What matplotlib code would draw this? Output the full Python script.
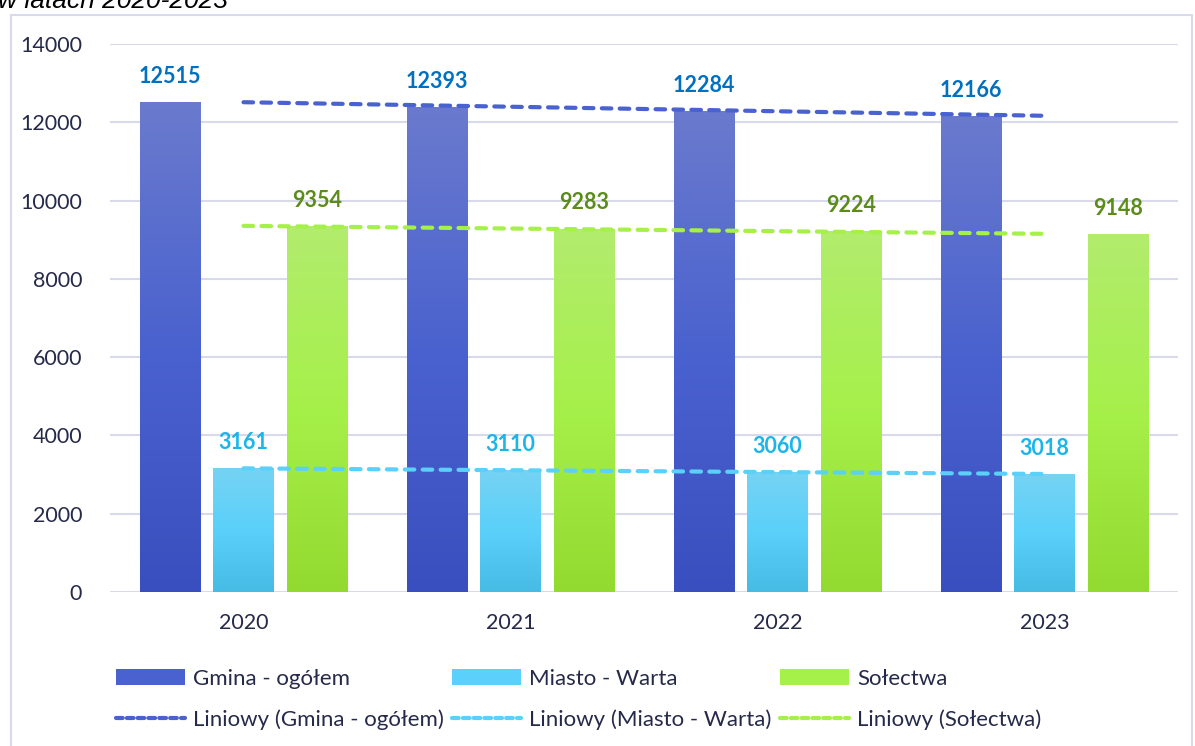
import numpy as np
import matplotlib
matplotlib.use("Agg")
import matplotlib.pyplot as plt
from matplotlib.patches import Rectangle, Patch
from matplotlib.lines import Line2D
from matplotlib.colors import LinearSegmentedColormap

years = ["2020", "2021", "2022", "2023"]
gmina = [12515, 12393, 12284, 12166]
miasto = [3161, 3110, 3060, 3018]
solectwa = [9354, 9283, 9224, 9148]
series_names = ["Gmina - ogółem", "Miasto - Warta", "Sołectwa"]
trend_names = ["Liniowy (Gmina - ogółem)", "Liniowy (Miasto - Warta)", "Liniowy (Sołectwa)"]
yticks = [0, 2000, 4000, 6000, 8000, 10000, 12000, 14000]

FONT = ["Lato", "DejaVu Sans"]
plt.rcParams["font.family"] = FONT

W, H = 1195, 746
fig = plt.figure(figsize=(W / 100, H / 100), dpi=100)
ax = fig.add_axes([110 / W, 1 - 592 / H, (1178 - 110) / W, (592 - 44) / H])

grid_c = "#d9d9ec"
text_c = "#262a4a"

# outer frame
fig.patches.append(Rectangle((10.5 / W, -0.02), (1192 - 10.5) / W, (H - 15) / H + 0.02,
                             transform=fig.transFigure, fill=False, ec=grid_c, lw=1.5, zorder=0))
fig.text(-2 / W, 1 - 8 / H, "w latach 2020-2023", fontsize=19, style="italic",
         family=["Liberation Sans", "DejaVu Sans"], color="#000000", va="baseline", ha="left")

x = np.arange(len(years))
bw = 0.225
off = 0.277
data = [gmina, miasto, solectwa]
grads = [
    ["#3a4fbf", "#4a62cf", "#6a7acd"],
    ["#46bbe4", "#5ad0fa", "#76d3f3"],
    ["#93da30", "#a6f04a", "#b2ec6e"],
]
solid = ["#4a62cf", "#5ad0fa", "#a6f04a"]
label_c = ["#0070c0", "#1cb5ea", "#5b8c1a"]
trend_c = ["#4a62cf", "#5ad0fa", "#a6f04a"]

ax.set_xlim(-0.5, len(years) - 0.5)
ax.set_ylim(0, 14000)

for i, vals in enumerate(data):
    pos = x + (i - 1) * off
    bars = ax.bar(pos, vals, width=bw, color=solid[i], zorder=2)
    cmap = LinearSegmentedColormap.from_list(f"g{i}", grads[i])
    grad = np.linspace(0, 1, 256).reshape(-1, 1)
    for b in bars:
        x0, y0 = b.get_x(), b.get_y()
        im = ax.imshow(grad, cmap=cmap, origin="lower", aspect="auto",
                       extent=(x0, x0 + b.get_width(), y0, y0 + b.get_height()), zorder=2.1)
        im.set_clip_path(b)
    for p, v in zip(pos, vals):
        ax.annotate(str(v), (p, v), xytext=(0, 11), textcoords="offset points",
                    ha="center", va="bottom", fontsize=15.5, fontweight="bold",
                    color=label_c[i], zorder=4)

ax.set_xlim(-0.5, len(years) - 0.5)
ax.set_ylim(0, 14000)

# linear trend lines (least-squares fit of each series)
for i, vals in enumerate(data):
    k, b0 = np.polyfit(x, vals, 1)
    ax.plot(x, k * x + b0, color=trend_c[i], lw=3, linestyle=(0, (2.3, 2.0)),
            dash_capstyle="round", zorder=3)

ax.set_yticks(yticks)
ax.set_yticklabels([str(t) for t in yticks])
ax.set_xticks(x)
ax.set_xticklabels(years)
ax.tick_params(axis="both", length=0, labelsize=15.5, colors=text_c)
ax.tick_params(axis="y", pad=20)
ax.tick_params(axis="x", pad=15)
ax.yaxis.grid(True, color=grid_c, lw=1.5, zorder=0)
ax.set_axisbelow(True)
for s in ax.spines.values():
    s.set_visible(False)

handles = []
labels = []
for i in range(3):
    handles.append(Patch(facecolor=solid[i], edgecolor="none"))
    labels.append(series_names[i])
    handles.append(Line2D([], [], color=trend_c[i], lw=3, linestyle=(0, (1.6, 1.0)),
                          dash_capstyle="round"))
    labels.append(trend_names[i])

leg = fig.legend(handles, labels, ncol=3, loc="upper left",
                 bbox_to_anchor=(116 / W, 1 - 669 / H), frameon=False,
                 fontsize=16, handlelength=3.1, handleheight=0.75, handletextpad=0.35,
                 columnspacing=0.4, labelspacing=0.9, borderaxespad=0, borderpad=0)
for t in leg.get_texts():
    t.set_color(text_c)

fig.savefig("out.png", dpi=100)
